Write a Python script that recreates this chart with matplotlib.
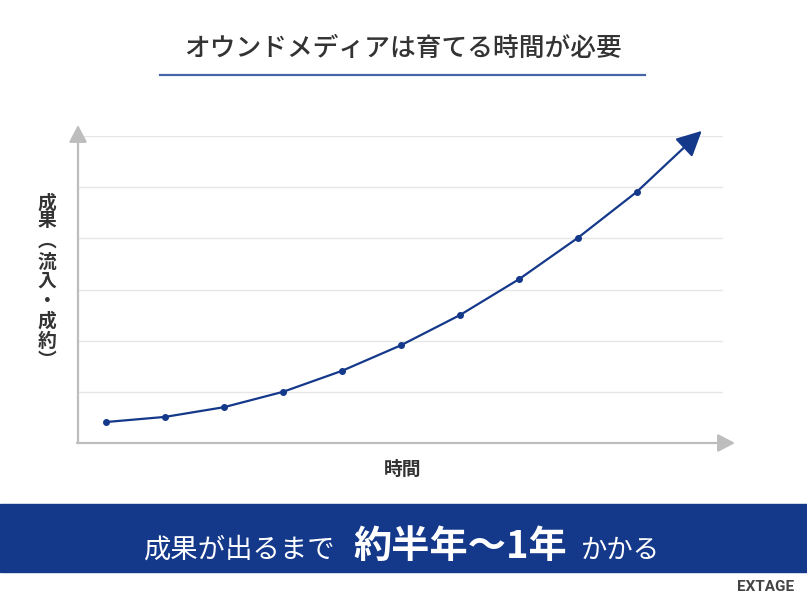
import matplotlib
matplotlib.use('Agg')
import matplotlib.pyplot as plt

plt.rcParams['font.family'] = ['Noto Sans CJK JP', 'DejaVu Sans']

# data
months = [1, 2, 3, 4, 5, 6, 7, 8, 9, 10]
results = [0.41, 0.51, 0.70, 1.0, 1.41, 1.91, 2.50, 3.20, 4.01, 4.91]
arrow_tip = (11.1, 6.1)
grid_levels = [1, 2, 3, 4, 5, 6]

title = 'オウンドメディアは育てる時間が必要'
ylabel_chars = ['成', '果', '\ufe35', '流', '入', '・', '成', '約', '\ufe36']
xlabel = '時間'

blue = '#14388a'
gray_axis = '#bdbdbd'
text_dark = '#333333'

W, H = 807, 604
fig = plt.figure(figsize=(W / 100, H / 100), dpi=100)


def px(x, y):
    # image pixel coords (top-left origin) -> figure fraction
    return x / W, 1 - y / H


# chart area
l, t = px(78, 136)
r, b = px(723, 443)
ax = fig.add_axes([l, b, r - l, t - b])
ax.set_xlim(0.525, 11.46)
ax.set_ylim(0, 6)
for s in ax.spines.values():
    s.set_visible(False)
ax.set_xticks([])
ax.set_yticks([])
for g in grid_levels:
    ax.axhline(g, color='#e6e6e6', lw=1, zorder=0)

ax.plot(months, results, color=blue, lw=1.6, marker='o', markersize=4, zorder=3,
        clip_on=False)
ax.annotate('', xy=arrow_tip, xytext=(months[-1], results[-1]),
            arrowprops=dict(arrowstyle='-|>,head_length=1.1,head_width=0.55',
                            color=blue, lw=1.6, shrinkA=0, shrinkB=0,
                            mutation_scale=14),
            annotation_clip=False, zorder=4)

# axis arrows
ax_arrow = dict(arrowstyle='-|>,head_length=0.8,head_width=0.42', color=gray_axis,
                lw=1.6, shrinkA=0, shrinkB=0, mutation_scale=13)
fig.add_artist(plt.Annotation('', xy=px(78, 125), xytext=px(78, 443),
                              xycoords='figure fraction', textcoords='figure fraction',
                              arrowprops=ax_arrow))
fig.add_artist(plt.Annotation('', xy=px(735, 443), xytext=px(77, 443),
                              xycoords='figure fraction', textcoords='figure fraction',
                              arrowprops=ax_arrow))

# title + underline
fig.text(*px(403, 48), title, ha='center', va='center', fontsize=18.5,
         color=text_dark, fontweight='medium')
fig.add_artist(plt.Line2D([160 / W, 645 / W], [1 - 75 / H] * 2, color='#4565a8', lw=1.6))

# vertical y label
ylabel_y = [203, 221, 241, 262, 281, 301, 321, 341, 361]
for ch, yy in zip(ylabel_chars, ylabel_y):
    fig.text(*px(47, yy), ch, ha='center', va='center', fontsize=13.5,
             fontweight='bold', color=text_dark)

fig.text(*px(403, 469), xlabel, ha='center', va='center', fontsize=13.5,
         fontweight='bold', color=text_dark)

# bottom banner
bl, bt = px(0, 504)
br, bb = px(W, 572)
fig.add_artist(plt.Rectangle((bl, bb), br - bl, bt - bb, color=blue,
                             transform=fig.transFigure))
fig.text(*px(143, 558), '成果が出るまで', ha='left', va='baseline', fontsize=19.7,
         color='white')
fig.text(*px(353, 558), '約半年〜1年', ha='left', va='baseline', fontsize=27.5,
         color='white', fontweight='bold')
fig.text(*px(581, 558), 'かかる', ha='left', va='baseline', fontsize=19,
         color='white')

# logo
fig.text(*px(766, 587), 'EXTAGE', ha='center', va='center', fontsize=11,
         color='#444444', fontweight='bold', family='Roboto')

fig.savefig('out.png', dpi=100)
